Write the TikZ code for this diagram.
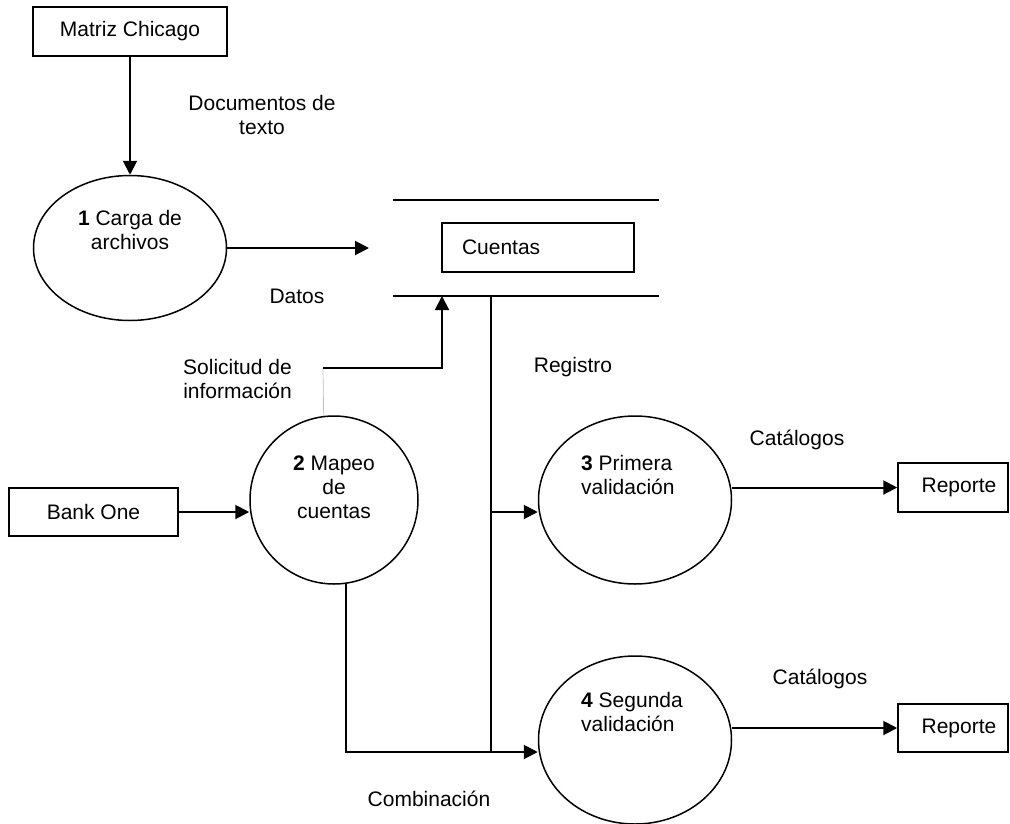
\documentclass[tikz,border=0pt]{standalone}
\usepackage{fontspec}
\setmainfont{Liberation Sans}
\usetikzlibrary{arrows.meta,shapes.geometric}
\begin{document}
\begin{tikzpicture}[x=1pt,y=-1pt,
  every node/.style={font=\fontsize{21}{24}\selectfont, inner sep=0pt},
  box/.style={draw, line width=1.5pt, rectangle},
  proc/.style={draw, line width=1.5pt, ellipse, inner sep=0pt},
  flow/.style={line width=2pt},
  arr/.style={flow, -{Triangle[length=14pt,width=14pt]}},
  thinflow/.style={draw=black!25, line width=0.7pt}]
\useasboundingbox (0,0) rectangle (1010,823);

% external entities
\node[box, minimum width=194pt, minimum height=49pt] (mc) at (130,31.5) {Matriz Chicago};
\node[box, minimum width=169pt, minimum height=48pt] (bo) at (93.5,512) {Bank One};
\node[box, minimum width=110pt, minimum height=49pt] (r1) at (953,487.5) {\hspace*{12pt}Reporte};
\node[box, minimum width=110pt, minimum height=48pt] (r2) at (953,728) {\hspace*{12pt}Reporte};

% processes
\node[proc, minimum width=193pt, minimum height=145pt] (e1) at (130,248) {};
\node[proc, minimum width=168pt, minimum height=168pt] (e2) at (334,500) {};
\node[proc, minimum width=193pt, minimum height=168pt] (e3) at (635,500) {};
\node[proc, minimum width=193pt, minimum height=168pt] (e4) at (635,740) {};

\node[align=center] (t1) at (130,230) {\textbf{1} Carga de\\archivos};
\node[align=center] (t2) at (334,487) {\textbf{2} Mapeo\\de\\cuentas};
\node[align=left, anchor=west] (t3) at (581,475) {\textbf{3} Primera\\validación};
\node[align=left, anchor=west] (t4) at (581,712) {\textbf{4} Segunda\\validación};

% data store
\coordinate (sTL) at (393,200);
\coordinate (sTR) at (659,200);
\coordinate (sBL) at (393,296);
\coordinate (sBR) at (659,296);
\draw[flow] (sTL) -- (sTR);
\draw[flow] (sBL) -- (sBR);
\node[box, minimum width=192pt, minimum height=49pt, text width=152pt, align=left, inner xsep=20pt] (cu) at (538,247.5) {Cuentas};

% flows
\draw[arr] (mc.south) -- (e1.north);
\coordinate (dEnd) at (369,248);
\draw[arr] (e1.east) -- (dEnd);

\coordinate (q1) at (323,368);
\coordinate (q2) at (442,296);
\draw[thinflow] (e2.97.5) -- (q1);
\draw[arr] (q1) -| (q2);

\draw[arr] (bo.east) -- (bo.east -| e2.west);

\coordinate (rg) at (491,296);
\coordinate (j3) at (491,512);
\coordinate (j4) at (491,752);
\draw[flow] (rg) -- (j4);
\draw[arr] (j3) -- (j3 -| e3.west);
\draw[flow] (e2.-82) |- (j4);
\draw[arr] (j4) -- (j4 -| e4.west);

\draw[arr] (r1.west -| e3.east) -- (r1.west);
\draw[arr] (r2.west -| e4.east) -- (r2.west);

% labels
\node[align=center] (l1) at (262,115) {Documentos de\\texto};
\node (l2) at (297,296) {Datos};
\node[align=right, anchor=east] (l3) at (292,379) {Solicitud de\\información};
\node (l4) at (573,367) {Registro};
\node (l5) at (797,440) {Catálogos};
\node (l6) at (820,679) {Catálogos};
\node (l7) at (429,799) {Combinación};
\end{tikzpicture}
\end{document}
